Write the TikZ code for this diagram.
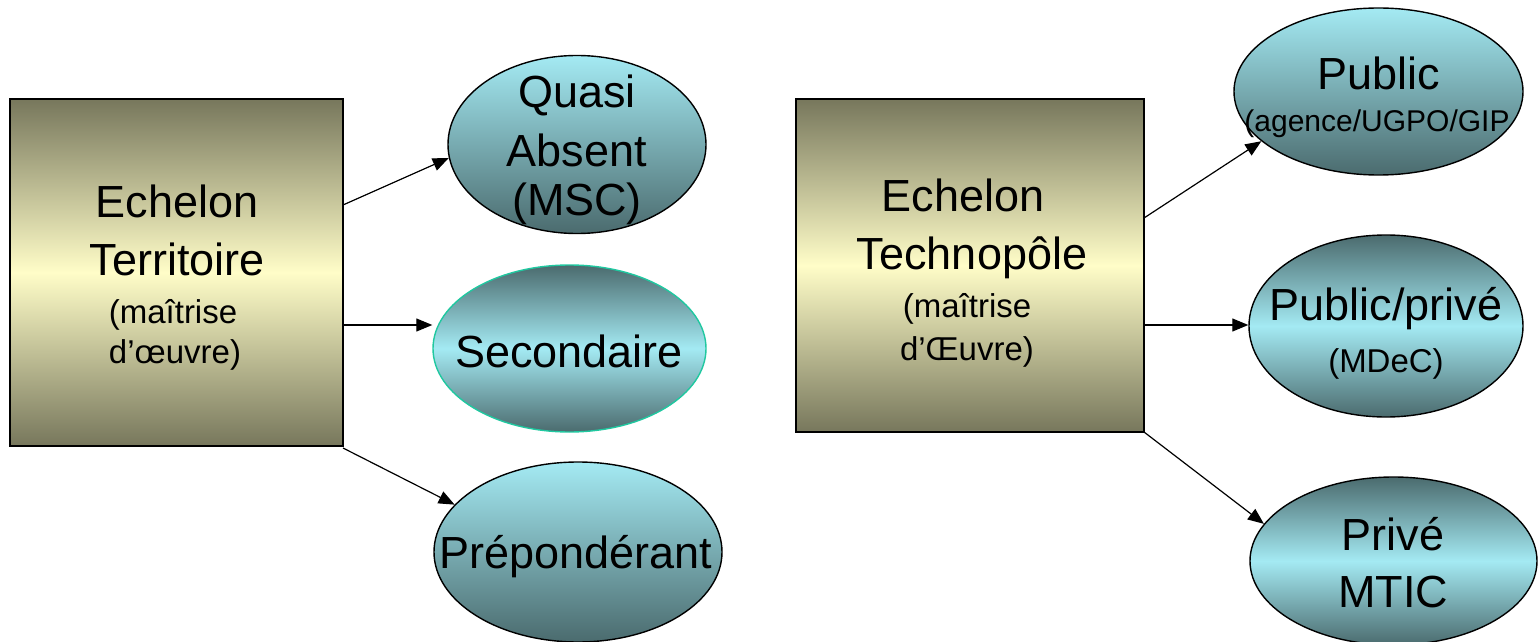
\documentclass[tikz,border=0pt]{standalone}
\usepackage{fontspec}
\setmainfont{Liberation Sans}
\usetikzlibrary{shapes.geometric,arrows.meta}
\definecolor{oliveD}{HTML}{77775C}
\definecolor{oliveL}{HTML}{FFFDC8}
\definecolor{cyanL}{HTML}{A4EAF3}
\definecolor{cyanD}{HTML}{4B6B6E}
\definecolor{tealB}{HTML}{20C8A0}
\tikzset{
  echbox/.style={draw=black, line width=0.8pt, rectangle, inner sep=0pt,
    top color=oliveD, bottom color=oliveD, middle color=oliveL, shading=axis},
  ovalA/.style={draw=black, line width=0.7pt, ellipse, inner sep=0pt,
    top color=cyanL, bottom color=cyanD, shading=axis},
  ovalB/.style={draw=black, line width=0.7pt, ellipse, inner sep=0pt,
    top color=cyanD, bottom color=cyanD, middle color=cyanL, shading=axis},
  bigtxt/.style={anchor=base, inner sep=0pt, font=\fontsize{22.5}{26}\selectfont},
  smalltxt/.style={anchor=base, inner sep=0pt, font=\fontsize{16.5}{20}\selectfont},
  conn/.style={draw=black, line width=0.6pt, -{Triangle[length=8pt,width=6.5pt]}}
}
\begin{document}
\begin{tikzpicture}[x=0.5pt,y=-0.5pt]
\useasboundingbox (0,0) rectangle (1538,642);
% boxes
\node[echbox, minimum width=166.5pt, minimum height=173.5pt] (terr) at (176.5,272.5) {};
\node[echbox, minimum width=174pt, minimum height=166.5pt] (tech) at (970,265.5) {};
% ellipses left
\node[ovalA, minimum width=129pt, minimum height=89pt] (quasi) at (577,144.5) {};
\node[ovalB, draw=tealB, minimum width=136.5pt, minimum height=83.5pt] (second) at (569.5,348.5) {};
\node[ovalA, minimum width=144pt, minimum height=90pt] (prep) at (578,552) {};
% ellipses right
\node[ovalA, minimum width=144.5pt, minimum height=83.5pt] (public) at (1378.5,91.5) {};
\node[ovalB, minimum width=137pt, minimum height=91pt] (pubpriv) at (1386,326) {};
\node[ovalB, minimum width=143.5pt, minimum height=84pt] (prive) at (1393.5,561) {};
% texts left box
\node[bigtxt] (t1a) at (177,218) {Echelon};
\node[bigtxt] (t1b) at (177,275) {Territoire};
\node[smalltxt] (t1c) at (173,323) {(maîtrise};
\node[smalltxt] (t1d) at (175,363) {d’œuvre)};
% texts right box
\node[bigtxt] (t2a) at (963,212) {Echelon};
\node[bigtxt] (t2b) at (972,270) {Technopôle};
\node[smalltxt] (t2c) at (967,317) {(maîtrise};
\node[smalltxt] (t2d) at (967,360) {d’Œuvre)};
% ellipse texts
\node[bigtxt] (q1) at (577,108) {Quasi};
\node[bigtxt] (q2) at (577,167) {Absent};
\node[bigtxt] (q3) at (577,215) {(MSC)};
\node[bigtxt] (s1) at (569,367) {Secondaire};
\node[bigtxt] (p1) at (576,568) {Prépondérant};
\node[bigtxt] (u1) at (1379,90) {Public};
\node[smalltxt, font=\fontsize{15}{18}\selectfont] (u2) at (1377,132) {(agence/UGPO/GIP};
\node[bigtxt] (v1) at (1386,320) {Public/privé};
\node[smalltxt] (v2) at (1386,372) {(MDeC)};
\node[bigtxt] (w1) at (1393,550) {Privé};
\node[bigtxt] (w2) at (1393,607) {MTIC};
% connectors
\coordinate (a1) at (343,205);
\coordinate (a2) at (343,325);
\coordinate (a3) at (343,448);
\coordinate (b1) at (1144,218);
\coordinate (b2) at (1144,325);
\coordinate (b3) at (1144,432);
\draw[conn] (a1) -- (quasi.186);
\draw[conn] (a2) -- (second.west |- a2);
\draw[conn] (a3) -- (prep.159);
\draw[conn] (b1) -- (public.203);
\draw[conn] (b2) -- (pubpriv.west |- b2);
\draw[conn] (b3) -- (prive.164);
\end{tikzpicture}
\end{document}
